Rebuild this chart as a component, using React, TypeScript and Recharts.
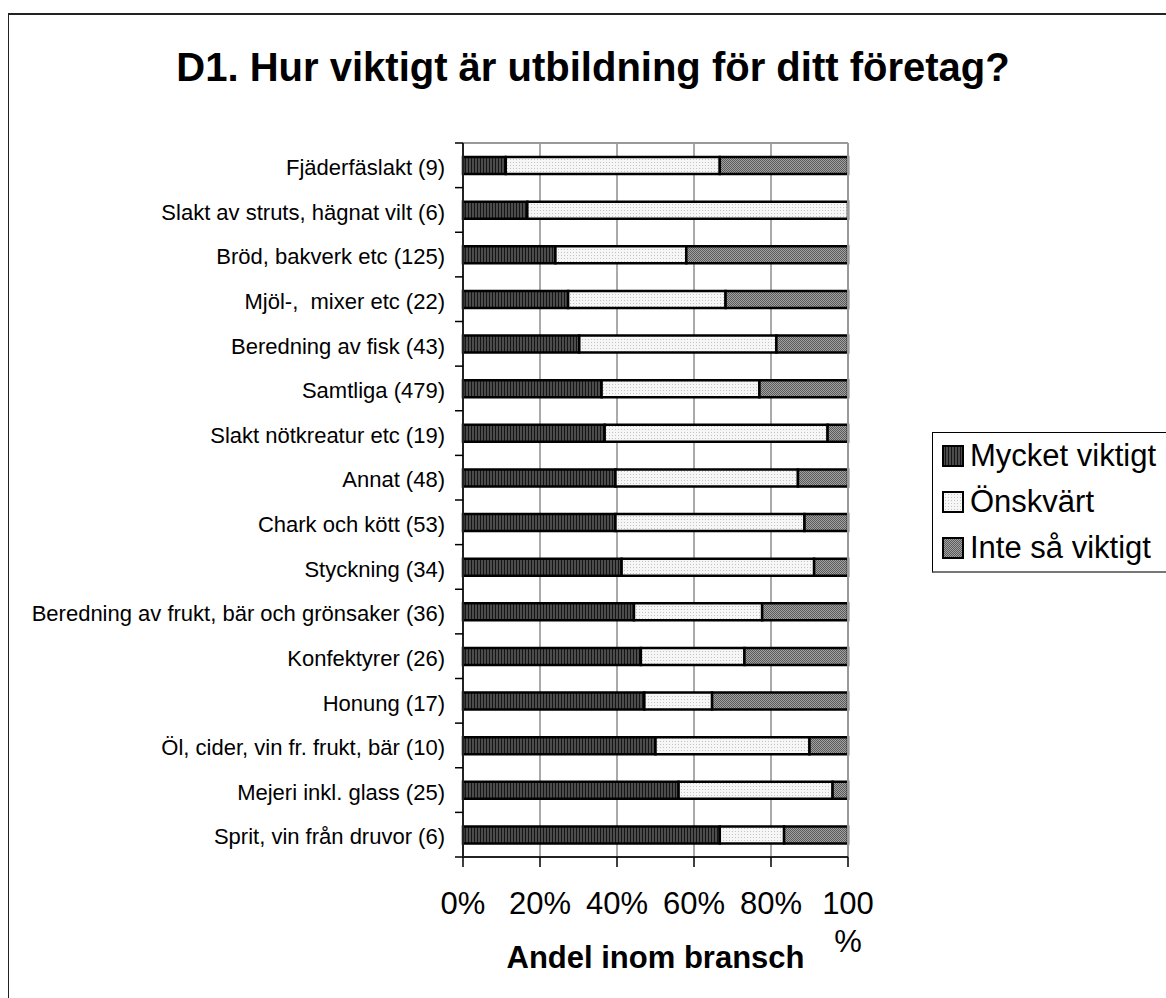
import React from "react";
import { BarChart, Bar, XAxis, YAxis, CartesianGrid, ReferenceLine, Label } from "recharts";

const FONT = "'Liberation Sans', Arial, sans-serif";

const categories = [
  "Fjäderfäslakt (9)",
  "Slakt av struts, hägnat vilt (6)",
  "Bröd, bakverk etc (125)",
  "Mjöl-,  mixer etc (22)",
  "Beredning av fisk (43)",
  "Samtliga (479)",
  "Slakt nötkreatur etc (19)",
  "Annat (48)",
  "Chark och kött (53)",
  "Styckning (34)",
  "Beredning av frukt, bär och grönsaker (36)",
  "Konfektyrer (26)",
  "Honung (17)",
  "Öl, cider, vin fr. frukt, bär (10)",
  "Mejeri inkl. glass (25)",
  "Sprit, vin från druvor (6)",
];
const mycketViktigt = [11.1, 16.7, 24, 27.3, 30.2, 36, 36.8, 39.6, 39.6, 41.2, 44.4, 46.2, 47.1, 50, 56, 66.7];
const onskvart = [55.6, 83.3, 34, 40.9, 51.2, 41, 57.9, 47.4, 49.1, 50, 33.3, 26.9, 17.6, 40, 40, 16.7];
const inteSaViktigt = [33.3, 0, 42, 31.8, 18.6, 23, 5.3, 13, 11.3, 8.8, 22.3, 26.9, 35.3, 10, 4, 16.6];
const xTicks = [0, 20, 40, 60, 80, 100];

const seriesInfo = [
  { key: "mycket", name: "Mycket viktigt", fill: "url(#pDark)" },
  { key: "onskvart", name: "Önskvärt", fill: "url(#pLight)" },
  { key: "inte", name: "Inte så viktigt", fill: "url(#pMid)" },
];

const data = categories.map((name, i) => ({
  name,
  mycket: mycketViktigt[i],
  onskvart: onskvart[i],
  inte: inteSaViktigt[i],
}));

const W = 1166;
const H = 998;
const MARGIN = { top: 143, right: 318, bottom: 0, left: 0 };
const Y_W = 463;
const X_H = 141;
const PLOT_H = H - MARGIN.top - MARGIN.bottom - X_H;
const BAND = PLOT_H / categories.length;
const TICK_SIZE = 8;
const TICK_MARGIN = 10;

function CatTick(props: any) {
  const { x, y, payload, index } = props;
  const lx = x + TICK_MARGIN;
  return (
    <g>
      <text x={x} y={y + 2} dy="0.355em" textAnchor="end" fontSize={22} fill="#000" fontFamily={FONT} style={{ whiteSpace: "pre" }}>
        {payload.value}
      </text>
      {index === 0 && <line x1={lx} x2={lx + TICK_SIZE} y1={y - BAND / 2} y2={y - BAND / 2} stroke="#000" strokeWidth={1.5} />}
      <line x1={lx} x2={lx + TICK_SIZE} y1={y + BAND / 2} y2={y + BAND / 2} stroke="#000" strokeWidth={1.5} />
    </g>
  );
}

function PctTick(props: any) {
  const { x, y, payload } = props;
  const v = payload.value;
  return (
    <text x={x} y={y} dy="0.71em" textAnchor="middle" fontSize={31} fill="#000" fontFamily={FONT}>
      {v === 100 ? (
        <>
          <tspan x={x}>100</tspan>
          <tspan x={x} dy={38}>%</tspan>
        </>
      ) : (
        `${v}%`
      )}
    </text>
  );
}

function Swatch({ fill }: { fill: string }) {
  return (
    <svg width={22} height={22} style={{ display: "block" }}>
      <rect x={1} y={1} width={20} height={20} fill={fill} stroke="#000" strokeWidth={2} />
    </svg>
  );
}

export default function App() {
  return (
    <div style={{ position: "absolute", left: 0, top: 0, width: W, height: H, overflow: "hidden", background: "#fff", fontFamily: FONT }}>
      <div style={{ position: "absolute", left: 8, top: 13, width: 1300, height: 1200, borderTop: "2px solid #222", borderLeft: "1.5px solid #222" }} />
      <div style={{ position: "absolute", left: 0, top: 44, width: 1186, textAlign: "center", fontSize: 40, fontWeight: "bold", lineHeight: "46px", color: "#000" }}>
        D1. Hur viktigt är utbildning för ditt företag?
      </div>
      <div style={{ position: "absolute", left: 0, top: 0 }}>
        <BarChart width={W} height={H} data={data} layout="vertical" margin={MARGIN} barCategoryGap={0}>
          <defs>
            <pattern id="pDark" width={3} height={3} patternUnits="userSpaceOnUse">
              <rect width={3} height={3} fill="#4c4c4c" />
              <rect width={1} height={3} fill="#151515" />
            </pattern>
            <pattern id="pLight" width={3} height={3} patternUnits="userSpaceOnUse">
              <rect width={3} height={3} fill="#f6f6f6" />
              <rect width={1} height={1} fill="#c4c4c4" />
            </pattern>
            <pattern id="pMid" width={2} height={2} patternUnits="userSpaceOnUse">
              <rect width={2} height={2} fill="#a2a2a2" />
              <rect width={1} height={1} fill="#5a5a5a" />
              <rect x={1} y={1} width={1} height={1} fill="#5a5a5a" />
            </pattern>
          </defs>
          <CartesianGrid horizontal={false} stroke="#555" strokeWidth={1} />
          <CartesianGrid vertical={false} stroke="#999" strokeWidth={2} horizontalCoordinatesGenerator={({ offset }: any) => [offset.top]} />
          <ReferenceLine x={100} stroke="#999" strokeWidth={2} />
          <XAxis
            type="number"
            domain={[0, 100]}
            ticks={xTicks}
            height={X_H}
            tick={<PctTick />}
            tickSize={10}
            tickMargin={25}
            stroke="#000"
            axisLine={{ stroke: "#222", strokeWidth: 2 }}
            tickLine={{ stroke: "#000", strokeWidth: 1.5 }}
          >
            <Label value="Andel inom bransch" position="insideBottom" offset={30} fontSize={31} fontWeight="bold" fill="#000" fontFamily={FONT} />
          </XAxis>
          <YAxis
            type="category"
            dataKey="name"
            width={Y_W}
            interval={0}
            tick={<CatTick />}
            tickLine={false}
            tickSize={TICK_SIZE}
            tickMargin={TICK_MARGIN}
            axisLine={{ stroke: "#222", strokeWidth: 2 }}
          />
          {seriesInfo.map((s) => (
            <Bar key={s.key} dataKey={s.key} name={s.name} stackId="a" fill={s.fill} stroke="#000" strokeWidth={2.5} barSize={17} isAnimationActive={false} />
          ))}
        </BarChart>
      </div>
      <div style={{ position: "absolute", left: 932, top: 432, width: 260, borderLeft: "1px solid #000", borderTop: "1px solid #000", borderBottom: "2px solid #777", background: "#fff" }}>
        {seriesInfo.map((s) => (
          <div key={s.key} style={{ height: 46, display: "flex", alignItems: "center", paddingLeft: 9 }}>
            <Swatch fill={s.fill} />
            <span style={{ marginLeft: 6, fontSize: 31, color: "#000", whiteSpace: "nowrap" }}>{s.name}</span>
          </div>
        ))}
      </div>
    </div>
  );
}
